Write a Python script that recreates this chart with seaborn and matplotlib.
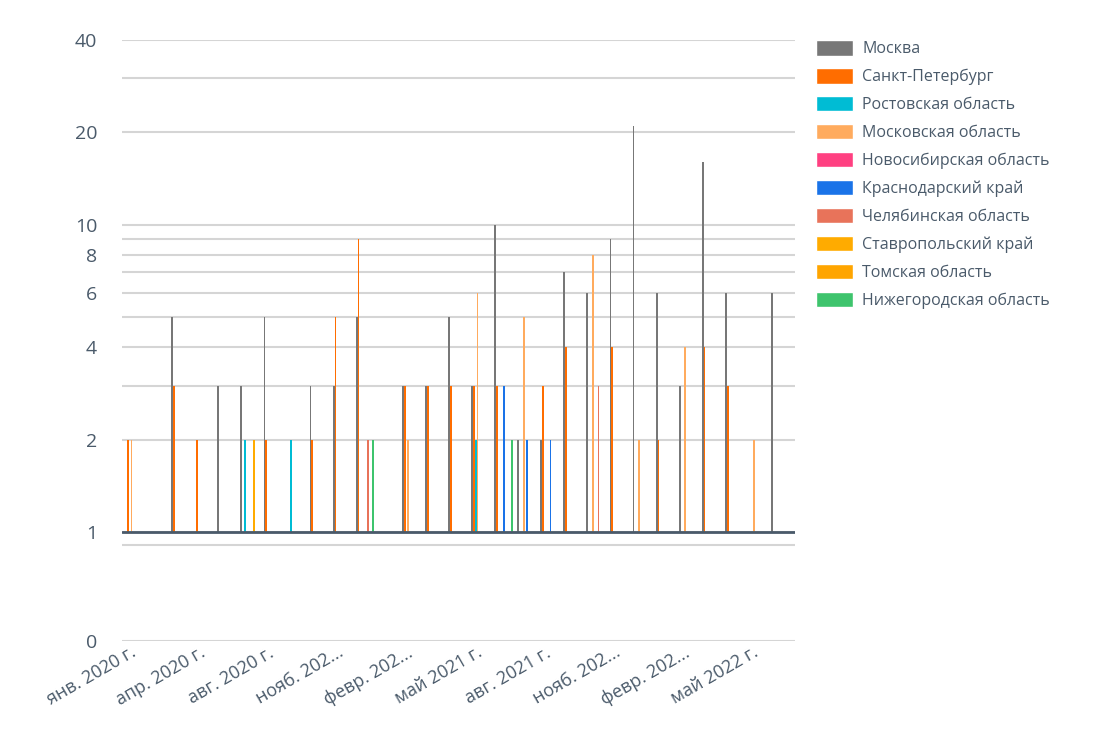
import numpy as np
import matplotlib
matplotlib.use("Agg")
import matplotlib.pyplot as plt
import seaborn as sns
from matplotlib.patches import Patch

sns.set_theme(style="white")
plt.rcParams['font.family'] = ['Open Sans', 'DejaVu Sans']

n_months = 29
tick_labels = ["янв. 2020 г.", "апр. 2020 г.", "авг. 2020 г.", "нояб. 202...", "февр. 202...",
               "май 2021 г.", "авг. 2021 г.", "нояб. 202...", "февр. 202...", "май 2022 г."]
series = ["Москва", "Санкт-Петербург", "Ростовская область", "Московская область",
          "Новосибирская область", "Краснодарский край", "Челябинская область",
          "Ставропольский край", "Томская область", "Нижегородская область"]
colors = ["#777777", "#ff6d00", "#00bcd4", "#ffab5e", "#ff4081", "#1a73e8",
          "#e8735a", "#ffab00", "#ffa500", "#3ec46d"]

# {month index: value}; missing months = 1 (baseline)
moscow = {2: 5, 4: 3, 5: 3, 6: 5, 8: 3, 9: 3, 10: 5, 12: 3, 13: 3, 14: 5, 15: 3, 16: 10, 17: 2,
          18: 2, 19: 7, 20: 6, 21: 9, 22: 21, 23: 6, 24: 3, 25: 16, 26: 6, 28: 6}
spb = {0: 2, 2: 3, 3: 2, 6: 2, 8: 2, 9: 5, 10: 9, 12: 3, 13: 3, 14: 3, 15: 3, 16: 3, 18: 3,
       19: 4, 21: 4, 23: 2, 25: 4, 26: 3}
rostov = {5: 2, 7: 2, 15: 2}
mosobl = {0: 2, 12: 2, 15: 6, 17: 5, 20: 8, 22: 2, 24: 4, 27: 2}
novosib = {}
krasnodar = {16: 3, 17: 2, 18: 2}
chelyab = {10: 2, 20: 3}
stavropol = {5: 2}
tomsk = {}
nizhny = {10: 2, 16: 2}
all_data = [moscow, spb, rostov, mosobl, novosib, krasnodar, chelyab, stavropol, tomsk, nizhny]

K = 108 / 92.0
def fwd(y):
    y = np.asarray(y, dtype=float)
    return np.where(y >= 1, np.log2(np.clip(y, 1, None)), (y - 1) * K)
def inv(t):
    t = np.asarray(t, dtype=float)
    return np.where(t >= 0, 2 ** np.clip(t, 0, 60), t / K + 1)

fig = plt.figure(figsize=(11.1, 7.39), dpi=100)
ax = fig.add_axes([0.11, 0.133, 0.606, 0.813])
ax.set_yscale('function', functions=(fwd, inv))

x = np.arange(n_months)
bw = 0.08
for i, (d, c) in enumerate(zip(all_data, colors)):
    vals = np.array([d.get(m, 1) for m in x], dtype=float)
    ax.bar(x - 0.4 + bw * i + bw / 2, vals - 1, bottom=1, width=bw, color=c, linewidth=0, zorder=3)

ax.set_xlim(-0.53, 28.63)
ax.set_ylim(0, 40)
ax.set_yticks([0, 1, 2, 4, 6, 8, 10, 20, 40])
ax.set_yticklabels(["0", "1", "2", "4", "6", "8", "10", "20", "40"])
ax.set_yticks([0.88, 3, 5, 7, 9, 30], minor=True)
ax.grid(True, axis='y', which='both', color='#d5d5d5', linewidth=1.5, zorder=0)
ax.axhline(1, color='#4a5a6a', linewidth=2, zorder=4)
ax.tick_params(axis='y', which='both', length=0, labelsize=14, labelcolor='#4a5a6a', pad=18)
ax.set_xticks(np.arange(0, 30, 3) + 0.2)
ax.set_xticklabels(tick_labels, rotation=30, ha='right', fontsize=13, color='#4a5a6a')
ax.tick_params(axis='x', length=0, pad=2)
for s in ax.spines.values():
    s.set_visible(False)

handles = [Patch(facecolor=c, label=s) for s, c in zip(series, colors)]
leg = fig.legend(handles=handles, loc='upper left', bbox_to_anchor=(0.722, 0.965), frameon=False,
                 fontsize=11.5, handlelength=2.3, handleheight=1.1, handletextpad=0.6,
                 labelspacing=0.68)
for t in leg.get_texts():
    t.set_color('#4a5a6a')

fig.savefig("out.png", dpi=100)
